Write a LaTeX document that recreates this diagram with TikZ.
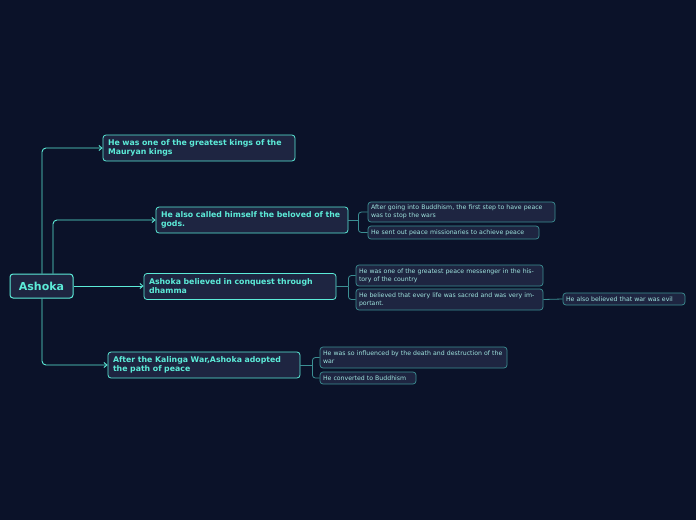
\documentclass[tikz,border=0pt]{standalone}
\usepackage{fontspec}
\setmainfont{DejaVu Sans}
\usetikzlibrary{arrows.meta}
\definecolor{bg}{HTML}{0B1229}
\definecolor{fillc}{HTML}{1E2541}
\definecolor{teal}{HTML}{5CEBD8}
\definecolor{teal2}{HTML}{3C8F93}
\definecolor{txt2}{HTML}{9FE3DE}
\tikzset{
 box/.style n args={2}{draw, rounded corners=3pt, fill=fillc, minimum width=#1, minimum height=#2, text width=#1-10, align=left, inner xsep=5pt, inner ysep=0pt},
 l0/.style={draw=teal, line width=1pt, rounded corners=3pt, fill=fillc, text=teal, font=\bfseries\fontsize{11}{13}\selectfont, minimum width=63, minimum height=24, inner sep=0pt},
 l1/.style={box={#1}{26}, draw=teal, line width=0.8pt, text=teal, font=\bfseries\fontsize{7.8}{9}\selectfont},
 l2/.style n args={2}{box={#1}{#2}, draw=teal2, line width=0.7pt, text=txt2, font=\fontsize{6.2}{8}\selectfont, inner xsep=3pt, text width=#1-6},
 con/.style={draw=teal, line width=0.9pt, rounded corners=4pt},
 con2/.style={draw=teal2, line width=0.8pt, rounded corners=3pt},
 arr/.style={-{Straight Barb[length=3pt,width=5pt]}}
}
\begin{document}
\begin{tikzpicture}[x=1pt,y=-1pt]
\fill[bg] (0,0) rectangle (696,520);
\node[l0] (R) at (41.5,286) {Ashoka};
\node[l1=192] (A) at (199,148) {He was one of the greatest kings of the Mauryan kings};
\node[l1=192] (B) at (252,220) {He also called himself the beloved of the gods.};
\node[l1=192] (C) at (240,286.5) {Ashoka believed in conquest through dhamma};
\node[l1=192] (D) at (204,365) {After the Kalinga War,Ashoka adopted the path of peace};
\node[l2={187}{20}] (B1) at (461.5,212) {After going into Buddhism, the first step to have peace was to stop the wars};
\node[l2={171}{13}] (B2) at (453.5,232.5) {He sent out peace missionaries to achieve peace};
\node[l2={187}{21}] (C1) at (449.5,275.5) {He was one of the greatest peace messenger in the history of the country};
\node[l2={187}{21}] (C2) at (449.5,299.5) {He believed that every life was sacred and was very important.};
\node[l2={122}{12}] (C3) at (624,299) {He also believed that war was evil};
\node[l2={187}{21}] (D1) at (413.5,357.5) {He was so influenced by the death and destruction of the war};
\node[l2={96}{12}] (D2) at (368,378) {He converted to Buddhism};
\draw[con,arr] (R.north -| 42,0) |- (A.west);
\draw[con,arr] (R.north -| 53,0) |- (B.west);
\draw[con,arr] (R.east) -- (C.west |- R.east);
\draw[con,arr] (R.south -| 42,0) |- (D.west);
\draw[con2] (B.east) -- ++(10,0) coordinate (bj);
\draw[con2] (bj) |- (B1.west); \draw[con2] (bj) |- (B2.west);
\draw[con2] (C.east) -- ++(12,0) coordinate (cj);
\draw[con2] (cj) |- (C1.west); \draw[con2] (cj) |- (C2.west);
\draw[con2] (C2.east) -- (C3.west);
\draw[con2] (D.east) -- ++(12,0) coordinate (dj);
\draw[con2] (dj) |- (D1.west); \draw[con2] (dj) |- (D2.west);
\end{tikzpicture}
\end{document}
